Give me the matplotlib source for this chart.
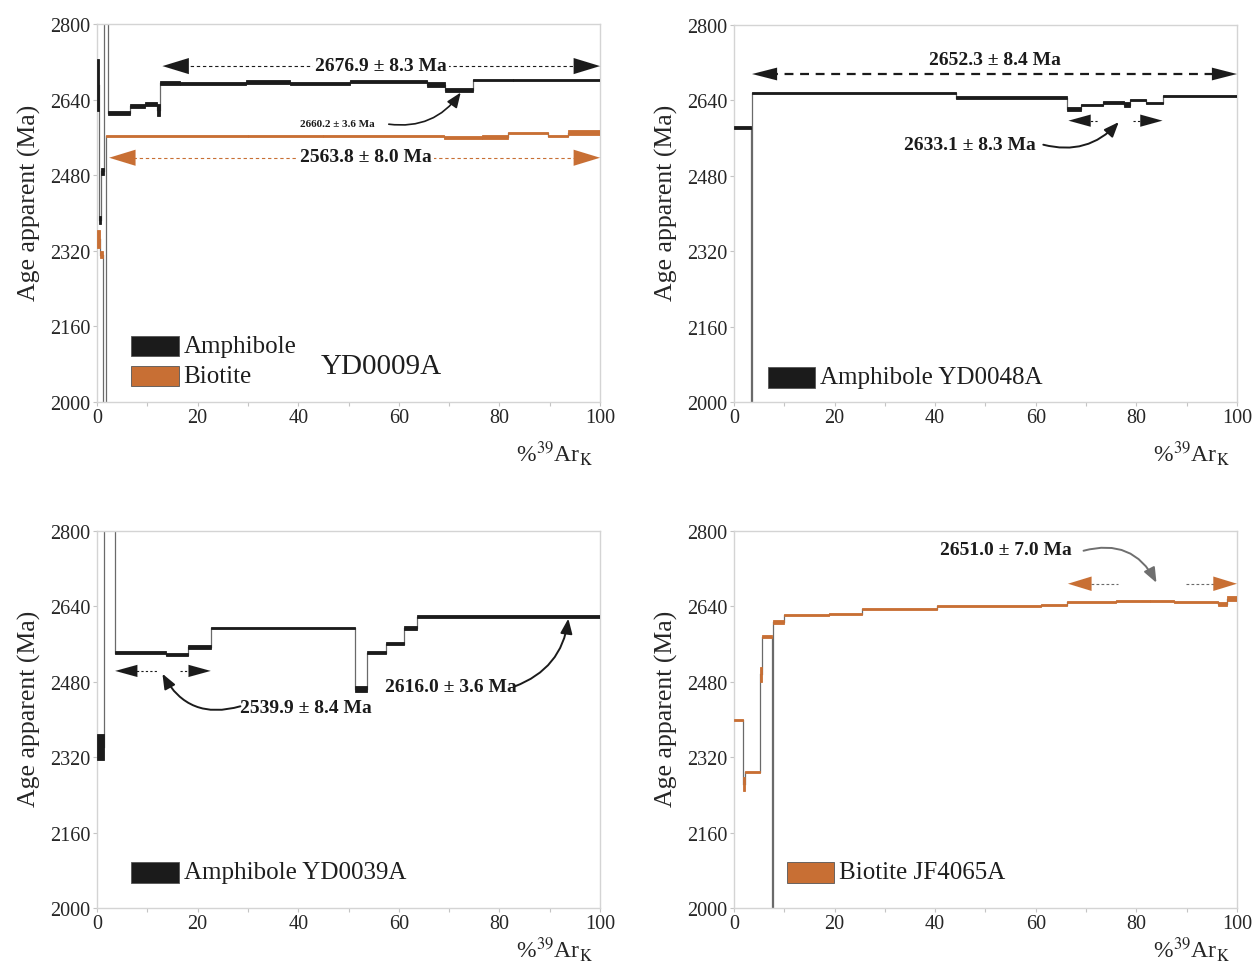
import matplotlib
matplotlib.use('Agg')
import matplotlib.pyplot as plt
from matplotlib.patches import Rectangle

plt.rcParams['font.family'] = ['Liberation Serif', 'DejaVu Serif']
plt.rcParams['mathtext.fontset'] = 'stix'

BLACK = '#1b1b1b'
ORANGE = '#c86f34'
GREY = '#6a6a6a'

# --- YD0009A (amphibole + biotite) ---
a_amph_pct = [0, 0.4, 0.8, 1.4, 2.2, 6.6, 9.5, 11.9, 12.6, 16.4, 29.6, 38.3,
              50.2, 65.6, 69.2, 74.7, 82.6, 100]
a_amph_age = [2670, 2385, 2488, 2900, 2612, 2626, 2631, 2618, 2675, 2674,
              2678, 2675, 2679, 2672, 2661, 2681, 2681]
a_amph_err = [55, 8, 8, 20, 4, 4, 4, 12, 4, 3.5, 4, 3, 3.5, 5, 4, 2, 2.5]

a_bio_pct = [0, 0.6, 1.2, 1.8, 30, 45, 69, 76.6, 81.7, 89.6, 93.6, 100]
a_bio_age = [2345, 2312, 1900, 2563, 2562.5, 2563, 2560, 2561, 2569, 2563, 2570]
a_bio_err = [20, 8, 30, 2.5, 2.5, 2.5, 2.5, 4, 2.5, 3, 5]

# --- YD0048A (amphibole) ---
b_pct = [0, 3.4, 3.5, 44.1, 66.3, 69.0, 73.3, 77.6, 78.8, 82.0, 85.2, 100]
b_age = [2582, 1950, 2656, 2646, 2622, 2631, 2636, 2631, 2640, 2635, 2648.5]
b_err = [3, 30, 2.5, 2.5, 5, 2, 3, 5, 2, 2.5, 2]

# --- YD0039A (amphibole) ---
c_pct = [0, 1.3, 3.5, 13.8, 18.1, 22.6, 51.2, 53.7, 57.5, 61.0, 63.6, 100]
c_age = [2341, 2900, 2542, 2537, 2554, 2594, 2464, 2542, 2561, 2594, 2618]
c_err = [28, 20, 3, 3, 4, 1.5, 6, 3, 3, 4, 3]

# --- JF4065A (biotite) ---
d_pct = [0, 1.8, 2.2, 5.2, 5.5, 7.6, 7.7, 10.0, 18.9, 25.5, 40.3, 61.0, 66.3,
         76.0, 82.8, 87.5, 96.3, 98.0, 100]
d_age = [2399, 2263, 2289, 2496, 2576, 1950, 2607, 2622, 2624, 2634.5, 2640.5,
         2643, 2650, 2652, 2651, 2649, 2645, 2656]
d_err = [3, 14, 2, 16, 4, 30, 4, 2, 2, 2, 2, 2, 2, 2, 1.5, 2, 4, 5]

# plateau labels
a_plat_amph = '2676.9 ± 8.3 Ma'
a_plat_bio = '2563.8 ± 8.0 Ma'
a_step = '2660.2 ± 3.6 Ma'
b_plat = '2652.3 ± 8.4 Ma'
b_plat2 = '2633.1 ± 8.3 Ma'
c_plat1 = '2539.9 ± 8.4 Ma'
c_plat2 = '2616.0 ± 3.6 Ma'
d_plat = '2651.0 ± 7.0 Ma'


def spectrum(ax, pct, age, err, color):
    for i in range(len(age)):
        x0, x1 = pct[i], pct[i + 1]
        ax.add_patch(Rectangle((x0, age[i] - err[i]), x1 - x0, 2 * err[i],
                               facecolor=color, edgecolor=color, lw=0.6, zorder=3))
        if i > 0:
            ax.plot([x0, x0], [age[i - 1], age[i]], color=GREY, lw=0.9, zorder=2)


def frame(ax, xlab_y=-0.095):
    ax.set_xlim(0, 100)
    ax.set_ylim(2000, 2800)
    ax.set_xticks(range(0, 101, 20))
    ax.set_xticks(range(10, 100, 20), minor=True)
    ax.set_yticks(range(2000, 2801, 160))
    for s in ax.spines.values():
        s.set_color('#d4d4d4')
        s.set_linewidth(1.0)
    ax.tick_params(which='both', colors='#c4c4c4', labelcolor='#262626',
                   labelsize=14.5, length=3, width=0.8)
    ax.tick_params(axis='x', pad=1)
    ax.tick_params(axis='y', pad=2)
    ax.set_ylabel('Age apparent (Ma)', fontsize=18.5, color='#262626')
    ax.yaxis.set_label_coords(-0.112, 0.53)
    ax.text(0.985, xlab_y, r'%$^{39}$Ar$_{\mathrm{K}}$', transform=ax.transAxes,
            ha='right', va='top', fontsize=17, color='#262626')


def head(ax, tip, base, y, color, hl=0.95, hw=0.29):
    ax.annotate('', xy=(tip, y), xytext=(base, y), zorder=6,
                arrowprops=dict(arrowstyle=f'-|>,head_length={hl},head_width={hw}',
                                color=color, lw=0.01, shrinkA=0, shrinkB=0,
                                mutation_scale=20))


def dash(ax, x0, x1, y, color, lw=0.8, dashes=(3, 2.5)):
    ax.plot([x0, x1], [y, y], color=color, lw=lw, dashes=dashes, zorder=5)


def curved(ax, start, end, rad, color=BLACK, lw=1.4):
    ax.annotate('', xy=end, xytext=start, zorder=6,
                arrowprops=dict(arrowstyle='-|>,head_length=0.45,head_width=0.18',
                                connectionstyle=f'arc3,rad={rad}', color=color,
                                lw=lw, shrinkA=0, shrinkB=0, mutation_scale=20))


def legend_box(ax, x, y, color, label, w=0.094, h=0.055, size=18):
    ax.add_patch(Rectangle((x, y - h / 2), w, h, transform=ax.transAxes,
                           facecolor=color, edgecolor='#555555', lw=0.6, zorder=6))
    ax.text(x + w + 0.01, y, label, transform=ax.transAxes, ha='left',
            va='center', fontsize=size, color='#1e1e1e', zorder=6)


fig = plt.figure(figsize=(12.54, 9.70), dpi=100)
axA = fig.add_axes([0.0774, 0.5845, 0.4011, 0.3897])
axB = fig.add_axes([0.5853, 0.5845, 0.4011, 0.3887])
axC = fig.add_axes([0.0774, 0.0629, 0.4011, 0.3887])
axD = fig.add_axes([0.5853, 0.0629, 0.4011, 0.3887])

bold = dict(fontsize=14, fontweight='bold', color=BLACK, ha='center', va='center', zorder=7)

# panel A
frame(axA)
spectrum(axA, a_amph_pct, a_amph_age, a_amph_err, BLACK)
spectrum(axA, a_bio_pct, a_bio_age, a_bio_err, ORANGE)
dash(axA, 16, 96, 2711, BLACK)
head(axA, 13, 19, 2711, BLACK)
head(axA, 100, 94, 2711, BLACK)
axA.text(56.5, 2713, a_plat_amph,
         bbox=dict(facecolor='white', edgecolor='none', pad=1.5), **bold)
dash(axA, 6, 96, 2517, ORANGE)
head(axA, 2.4, 8.5, 2517, ORANGE)
head(axA, 100, 94, 2517, ORANGE)
axA.text(53.5, 2519, a_plat_bio,
         bbox=dict(facecolor='white', edgecolor='none', pad=1.5), **bold)
axA.text(47.7, 2590, a_step, fontsize=8, fontweight='bold', color=BLACK,
         ha='center', va='center', zorder=7)
curved(axA, (58, 2588), (72.3, 2655), 0.3, lw=1.2)
legend_box(axA, 0.068, 0.148, BLACK, 'Amphibole')
legend_box(axA, 0.068, 0.069, ORANGE, 'Biotite')
axA.text(0.565, 0.095, 'YD0009A', transform=axA.transAxes, ha='center',
         va='center', fontsize=21, color='#1e1e1e')

# panel B
frame(axB)
spectrum(axB, b_pct, b_age, b_err, BLACK)
dash(axB, 7, 96, 2696, BLACK, lw=1.6, dashes=(4, 3))
head(axB, 3.6, 9, 2696, BLACK, 0.9, 0.23)
head(axB, 100, 94.5, 2696, BLACK, 0.9, 0.23)
axB.text(51.9, 2726, b_plat, **bold)
dash(axB, 70, 72.5, 2597, BLACK, lw=0.8, dashes=(2, 2))
dash(axB, 79.4, 82, 2597, BLACK, lw=0.8, dashes=(2, 2))
head(axB, 66.5, 71, 2597, BLACK, 0.8, 0.22)
head(axB, 85.2, 80.5, 2597, BLACK, 0.8, 0.22)
axB.text(46.9, 2546, b_plat2, **bold)
curved(axB, (61.5, 2546), (76.5, 2594), 0.3)
legend_box(axB, 0.068, 0.066, BLACK, 'Amphibole YD0048A')

# panel C
frame(axC, -0.07)
spectrum(axC, c_pct, c_age, c_err, BLACK)
dash(axC, 7, 12, 2503, BLACK, lw=0.8, dashes=(2, 2))
dash(axC, 16.5, 19.5, 2503, BLACK, lw=0.8, dashes=(2, 2))
head(axC, 3.6, 9, 2503, BLACK, 0.8, 0.22)
head(axC, 22.6, 17.5, 2503, BLACK, 0.8, 0.22)
axC.text(41.6, 2426, c_plat1, **bold)
curved(axC, (28.5, 2428), (13, 2497), -0.4)
axC.text(70.4, 2469, c_plat2, **bold)
curved(axC, (83, 2470), (93.7, 2614), 0.3)
legend_box(axC, 0.068, 0.095, BLACK, 'Amphibole YD0039A')

# panel D
frame(axD, -0.07)
spectrum(axD, d_pct, d_age, d_err, ORANGE)
dash(axD, 70, 76.3, 2688, GREY, lw=0.8, dashes=(2.5, 2))
dash(axD, 89.9, 96, 2688, GREY, lw=0.8, dashes=(2.5, 2))
head(axD, 66.4, 72, 2688, ORANGE, 0.85, 0.26)
head(axD, 100, 94.5, 2688, ORANGE, 0.85, 0.26)
axD.text(54, 2760, d_plat, **bold)
curved(axD, (69.5, 2758), (84, 2690), -0.4, color='#6f6f6f')
legend_box(axD, 0.105, 0.095, ORANGE, 'Biotite JF4065A')

fig.savefig('out.png', dpi=100)
